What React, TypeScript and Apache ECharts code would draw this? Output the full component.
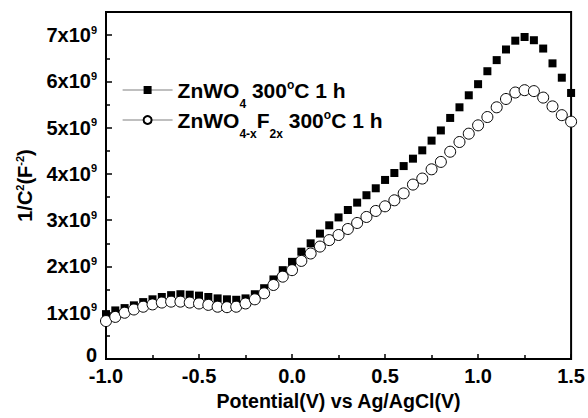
import React, { useEffect, useRef } from 'react';
import * as echarts from 'echarts';

// Potential (V vs Ag/AgCl)
const potential = [
  -1.0, -0.95, -0.9, -0.85, -0.8, -0.75, -0.7, -0.65, -0.6, -0.55,
  -0.5, -0.45, -0.4, -0.35, -0.3, -0.25, -0.2, -0.15, -0.1, -0.05,
  0.0, 0.05, 0.1, 0.15, 0.2, 0.25, 0.3, 0.35, 0.4, 0.45,
  0.5, 0.55, 0.6, 0.65, 0.7, 0.75, 0.8, 0.85, 0.9, 0.95,
  1.0, 1.05, 1.1, 1.15, 1.2, 1.25, 1.3, 1.35, 1.4, 1.45, 1.5,
];

// 1/C^2 in units of 1e9 F^-2
const znwo4 = [
  0.97, 1.05, 1.1, 1.16, 1.23, 1.29, 1.34, 1.38, 1.4, 1.39,
  1.37, 1.34, 1.31, 1.29, 1.28, 1.31, 1.4, 1.53, 1.72, 1.92,
  2.1, 2.32, 2.5, 2.71, 2.89, 3.06, 3.22, 3.38, 3.54, 3.69,
  3.87, 4.02, 4.17, 4.33, 4.51, 4.72, 4.94, 5.21, 5.44, 5.7,
  5.94, 6.22, 6.46, 6.69, 6.88, 6.96, 6.89, 6.71, 6.39, 6.08, 5.75,
];

const znwo4f = [
  0.82, 0.91, 1.0, 1.07, 1.13, 1.18, 1.22, 1.24, 1.24, 1.22,
  1.2, 1.17, 1.13, 1.12, 1.13, 1.2, 1.29, 1.42, 1.6, 1.78,
  1.92, 2.12, 2.28, 2.43, 2.57, 2.68, 2.81, 2.94, 3.07, 3.2,
  3.3, 3.43, 3.58, 3.77, 3.9, 4.1, 4.26, 4.48, 4.69, 4.87,
  5.05, 5.23, 5.44, 5.62, 5.76, 5.81, 5.79, 5.65, 5.46, 5.27, 5.13,
];

const seriesNames = ['ZnWO4 300°C 1 h', 'ZnWO4-xF2x 300°C 1 h'];
const legendRich: Record<string, string> = {
  'ZnWO4 300°C 1 h': '{a|ZnWO}{sub|4}{a| 300}{sup|o}{a|C 1 h}',
  'ZnWO4-xF2x 300°C 1 h': '{a|ZnWO}{sub|4-x}{a|F}{sub|2x}{a| 300}{sup|o}{a|C 1 h}',
};

const FONT = '"Liberation Sans", Arial, sans-serif';
const FS = 20;

export default function App() {
  const ref = useRef<HTMLDivElement>(null);
  useEffect(() => {
    const chart = echarts.init(ref.current!, null, { renderer: 'svg' });
    const supStyle = { fontSize: 11, fontWeight: 'bold', fontFamily: FONT, color: '#000', verticalAlign: 'top' };
    const legendBase = {
      orient: 'vertical',
      left: 122,
      padding: 0,
      itemWidth: 50,
      itemHeight: 10,
      lineStyle: { color: '#808080', width: 1.2, opacity: 1 },
      formatter: (name: string) => legendRich[name] || name,
      textStyle: {
        fontFamily: FONT,
        rich: {
          a: { fontSize: 21, fontWeight: 'bold', fontFamily: FONT, color: '#000', lineHeight: 40 },
          sub: { fontSize: 12, fontWeight: 'bold', fontFamily: FONT, color: '#000', verticalAlign: 'bottom' },
          sup: { fontSize: 12, fontWeight: 'bold', fontFamily: FONT, color: '#000', verticalAlign: 'top', padding: [9, 0, 0, 0] },
        },
      },
    };
    chart.setOption({
      animation: false,
      backgroundColor: '#fff',
      grid: {
        left: 106, right: 16, top: 12, bottom: 59,
        show: true, borderColor: '#000', borderWidth: 2, backgroundColor: 'transparent',
      },
      legend: [
        { ...legendBase, top: 79, data: [seriesNames[0]] },
        { ...legendBase, top: 109, data: [seriesNames[1]] },
      ],
      xAxis: {
        type: 'value',
        min: -1,
        max: 1.5,
        interval: 0.5,
        name: 'Potential(V) vs Ag/AgCl(V)',
        nameLocation: 'middle',
        nameGap: 27,
        nameTextStyle: { fontFamily: FONT, fontSize: 19.6, fontWeight: 'bold', color: '#000' },
        axisLine: { onZero: false, lineStyle: { color: '#000', width: 2 } },
        axisTick: { inside: true, length: 5, lineStyle: { color: '#000', width: 1.5 } },
        minorTick: { show: true, splitNumber: 2, length: 4, lineStyle: { color: '#000', width: 1.5 } },
        splitLine: { show: false },
        axisLabel: {
          margin: 7,
          fontFamily: FONT, fontSize: FS, fontWeight: 'bold', color: '#000',
          formatter: (v: number) => v.toFixed(1),
        },
      },
      yAxis: {
        type: 'value',
        min: 0,
        max: 7.5,
        interval: 1,
        name: '{a|1/C}{s|2}{a|(F}{s|-2}{a|)}',
        nameLocation: 'middle',
        nameRotate: 90,
        nameGap: 69,
        nameTextStyle: {
          rich: {
            a: { fontSize: FS, fontWeight: 'bold', fontFamily: FONT, color: '#000', lineHeight: 22 },
            s: supStyle,
          },
        },
        axisLine: { onZero: false, lineStyle: { color: '#000', width: 2 } },
        axisTick: { inside: true, length: 6, lineStyle: { color: '#000', width: 1.5 } },
        minorTick: { show: true, splitNumber: 2, length: 4, lineStyle: { color: '#000', width: 1.5 } },
        splitLine: { show: false },
        axisLabel: {
          margin: 9,
          fontFamily: FONT, fontSize: FS, fontWeight: 'bold', color: '#000',
          formatter: (v: number) => {
            if (v === 0) return '{z|0}';
            if (!Number.isInteger(v)) return '';
            return `{b|${v}x10}{s|9}`;
          },
          rich: {
            b: { fontSize: FS, fontWeight: 'bold', fontFamily: FONT, color: '#000', lineHeight: 22 },
            z: { fontSize: FS, fontWeight: 'bold', fontFamily: FONT, color: '#000', lineHeight: 12, padding: [0, 0, 9, 0] },
            s: supStyle,
          },
        },
      },
      series: [
        {
          name: seriesNames[0],
          type: 'line',
          data: potential.map((x, i) => [x, znwo4[i]]),
          symbol: 'rect',
          symbolSize: 8,
          showSymbol: true,
          lineStyle: { width: 0, color: '#000' },
          itemStyle: { color: '#000', borderWidth: 0 },
          clip: true,
          z: 2,
        },
        {
          name: seriesNames[1],
          type: 'line',
          data: potential.map((x, i) => [x, znwo4f[i]]),
          symbol: 'circle',
          symbolSize: 11,
          showSymbol: true,
          lineStyle: { width: 0, color: '#000' },
          itemStyle: { color: '#fff', borderColor: '#000', borderWidth: 1 },
          clip: true,
          z: 3,
        },
      ],
    });
    return () => chart.dispose();
  }, []);
  return <div ref={ref} style={{ position: 'absolute', left: 0, top: 0, width: 588, height: 418 }} />;
}
